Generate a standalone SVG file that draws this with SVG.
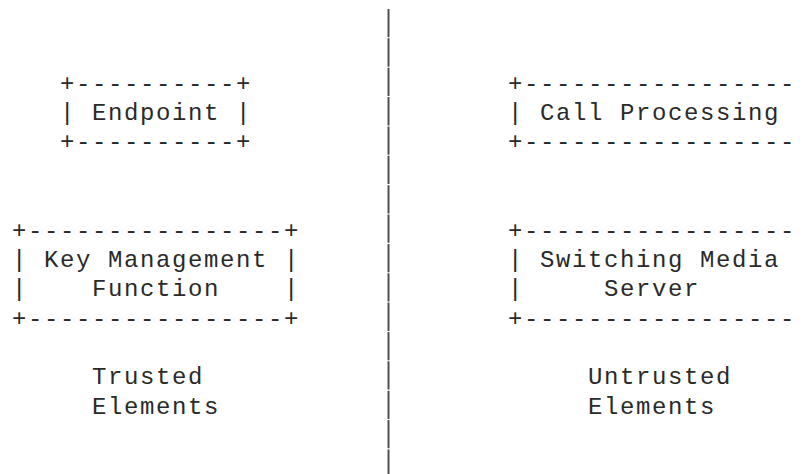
<svg xmlns="http://www.w3.org/2000/svg" width="803" height="474" viewBox="0 0 803 474">
  <style>
    text { font-family: "Liberation Mono", "DejaVu Sans Mono", monospace; font-size: 24px; letter-spacing: 1.6px; fill: #2a2a2a; white-space: pre; }
    .sep { stroke: #505050; stroke-width: 2; stroke-dasharray: 28.3 1.06; fill: none; }
  </style>
  <rect width="803" height="474" fill="#ffffff"/>

  <!-- trust boundary between the two columns -->
  <g id="connectors">
    <line class="sep" x1="388.5" y1="9" x2="388.5" y2="474"/>
  </g>

  <g id="endpoint">
    <text x="60" y="90.7">+----------+</text>
    <text x="60" y="120.1">| Endpoint |</text>
    <text x="60" y="149.4">+----------+</text>
  </g>

  <!-- the right-hand boxes run past the right edge -->
  <g id="call-processing">
    <text x="508" y="90.7">+-----------------</text>
    <text x="508" y="120.1">| Call Processing</text>
    <text x="508" y="149.4">+-----------------</text>
  </g>

  <g id="key-management-function">
    <text x="12" y="237.5">+----------------+</text>
    <text x="12" y="266.9">| Key Management |</text>
    <text x="12" y="296.2">|    Function    |</text>
    <text x="12" y="325.6">+----------------+</text>
  </g>

  <g id="switching-media-server">
    <text x="508" y="237.5">+-----------------</text>
    <text x="508" y="266.9">| Switching Media</text>
    <text x="508" y="296.2">|     Server</text>
    <text x="508" y="325.6">+-----------------</text>
  </g>

  <g id="trusted-elements">
    <text x="92" y="384.3">Trusted</text>
    <text x="92" y="413.7">Elements</text>
  </g>

  <g id="untrusted-elements">
    <text x="588" y="384.3">Untrusted</text>
    <text x="588" y="413.7">Elements</text>
  </g>
</svg>
